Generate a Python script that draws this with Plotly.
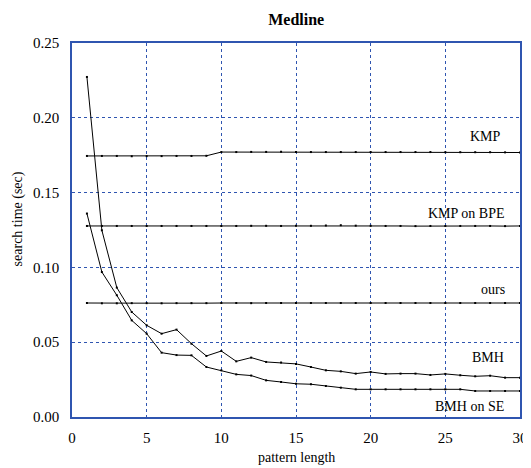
import plotly.graph_objects as go

x = list(range(1, 31))

kmp = [0.1745, 0.1745, 0.1745, 0.1743, 0.1744, 0.1744, 0.1745, 0.1745, 0.1746, 0.1771,
       0.1771, 0.1772, 0.1772, 0.1773, 0.1772, 0.1771, 0.1771, 0.1771, 0.1771, 0.1771,
       0.1771, 0.1771, 0.1771, 0.1771, 0.1770, 0.1770, 0.1770, 0.1770, 0.1769, 0.1768]
kmp_bpe = [0.1277, 0.1277, 0.1277, 0.1277, 0.1277, 0.1277, 0.1277, 0.1277, 0.1277, 0.1277,
           0.1277, 0.1278, 0.1278, 0.1277, 0.1278, 0.1278, 0.1280, 0.1282, 0.1279, 0.1278,
           0.1277, 0.1277, 0.1276, 0.1277, 0.1277, 0.1277, 0.1277, 0.1277, 0.1276, 0.1277]
ours = [0.0762, 0.0760, 0.0760, 0.0761, 0.0761, 0.0760, 0.0761, 0.0761, 0.0761, 0.0762,
        0.0762, 0.0761, 0.0762, 0.0762, 0.0762, 0.0762, 0.0762, 0.0762, 0.0762, 0.0762,
        0.0762, 0.0762, 0.0762, 0.0762, 0.0762, 0.0762, 0.0762, 0.0762, 0.0762, 0.0762]
bmh = [0.2273, 0.1248, 0.0865, 0.0702, 0.0613, 0.0557, 0.0584, 0.0490, 0.0408, 0.0441,
       0.0372, 0.0397, 0.0368, 0.0364, 0.0355, 0.0334, 0.0312, 0.0305, 0.0290, 0.0301,
       0.0288, 0.0290, 0.0290, 0.0281, 0.0288, 0.0279, 0.0272, 0.0276, 0.0263, 0.0263]
bmh_se = [0.1360, 0.0969, 0.0814, 0.0646, 0.0557, 0.0430, 0.0414, 0.0412, 0.0334, 0.0312,
          0.0285, 0.0277, 0.0245, 0.0234, 0.0222, 0.0219, 0.0207, 0.0196, 0.0185, 0.0185,
          0.0185, 0.0185, 0.0185, 0.0185, 0.0185, 0.0185, 0.0174, 0.0174, 0.0174, 0.0174]

series = [("KMP", kmp), ("KMP on BPE", kmp_bpe), ("ours", ours),
          ("BMH", bmh), ("BMH on SE", bmh_se)]
label_x = [28.85, 29.1, 29.1, 29.05, 29.05]
label_y = [0.1872, 0.1360, 0.0854, 0.0397, 0.0067]

FONT = "Liberation Serif, Times New Roman, serif"
BLUE = "#2f55b0"

fig = go.Figure()
for name, vals in series:
    fig.add_trace(go.Scatter(
        x=x, y=vals, mode="lines+markers", name=name,
        line=dict(color="black", width=1),
        marker=dict(color="black", size=2, symbol="square"),
        showlegend=False, hoverinfo="skip"))

for (name, _), lx, ly in zip(series, label_x, label_y):
    fig.add_annotation(x=lx, y=ly, text=name, showarrow=False,
                       xanchor="right", yanchor="middle",
                       font=dict(family=FONT, size=14, color="black"))

# axis titles
fig.add_annotation(xref="paper", yref="paper", x=0.5, y=-0.109, text="pattern length",
                   showarrow=False, xanchor="center", yanchor="middle",
                   font=dict(family=FONT, size=14, color="black"))
fig.add_annotation(xref="paper", yref="paper", x=-0.12, y=0.529, text="search time (sec)",
                   showarrow=False, xanchor="center", yanchor="middle", textangle=-90,
                   font=dict(family=FONT, size=14, color="black"))

# page body has an 8px margin, so the figure is drawn 8px smaller and offset
fig.update_layout(
    width=523, height=460,
    margin=dict(l=64, r=11, t=35, b=51, autoexpand=False),
    paper_bgcolor="white", plot_bgcolor="white",
    font=dict(family=FONT, color="black"),
    title=dict(text="<b>Medline</b>", x=0.551, xanchor="center", y=0.976, yanchor="middle",
               font=dict(family=FONT, size=16, color="black")),
)
fig.update_xaxes(
    range=[0, 30], tickvals=[0, 5, 10, 15, 20, 25, 30],
    showgrid=True, gridcolor=BLUE, griddash="dot", gridwidth=1,
    showline=True, linecolor=BLUE, linewidth=1.5, mirror=True,
    zeroline=False, ticks="", tickfont=dict(family=FONT, size=15),
    automargin=False, ticklabelstandoff=6,
)
fig.update_yaxes(
    range=[0, 0.25], tickvals=[0, 0.05, 0.10, 0.15, 0.20, 0.25],
    ticktext=["0.00", "0.05", "0.10", "0.15", "0.20", "0.25"],
    showgrid=True, gridcolor=BLUE, griddash="dot", gridwidth=1,
    showline=True, linecolor=BLUE, linewidth=1.5, mirror=True,
    zeroline=False, ticks="", tickfont=dict(family=FONT, size=15),
    automargin=False, ticklabelstandoff=8,
)

fig.write_html("out.html")
